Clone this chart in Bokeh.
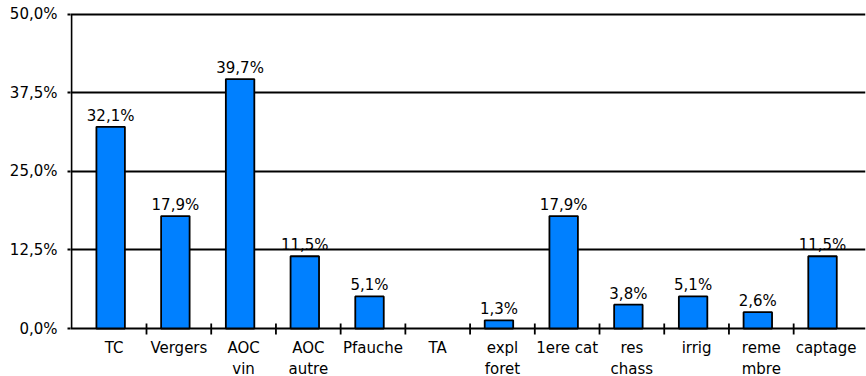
from bokeh.plotting import figure
from bokeh.models import Range1d, FixedTicker, ColumnDataSource
from bokeh.core.properties import value
from bokeh.embed import file_html
from bokeh.resources import INLINE

categories = ["TC", "Vergers", "AOC\nvin", "AOC\nautre", "Pfauche", "TA",
              "expl\nforet", "1ere cat", "res\nchass", "irrig", "reme\nmbre", "captage"]
values = [32.1, 17.9, 39.7, 11.5, 5.1, 0.0, 1.3, 17.9, 3.8, 5.1, 2.6, 11.5]
y_ticks = [0, 12.5, 25, 37.5, 50]
y_tick_labels = ["0,0%", "12,5%", "25,0%", "37,5%", "50,0%"]

FONT = "DejaVu Sans"
FS = "15px"
PX = 316 / 50.3          # pixels per percentage point
UNIT = 64.7              # pixels per category
LW = 1.8

n = len(categories)
centers = [i + 0.5 for i in range(n)]
x_start = -0.159

bx, btop, blab = [], [], []
for c, v in zip(centers, values):
    if v > 0:
        bx.append(c - 0.054)
        btop.append(v)
        blab.append(("%.1f%%" % v).replace(".", ","))
src = ColumnDataSource(dict(x=bx, top=btop, lab=blab))

p = figure(width=866, height=376, output_backend="svg", toolbar_location=None,
           x_range=Range1d(x_start - 1 / UNIT, 12.11), y_range=Range1d(-48 / PX, 50.3),
           min_border_left=70, min_border_right=1, min_border_top=12, min_border_bottom=0)
p.outline_line_color = None
p.background_fill_color = "white"
p.border_fill_color = "white"

# horizontal grid (the 0 line is the category axis)
p.xgrid.grid_line_color = None
p.ygrid.ticker = FixedTicker(ticks=y_ticks)
p.ygrid.grid_line_color = "black"
p.ygrid.grid_line_width = LW

# bars and value labels
p.vbar(x="x", top="top", bottom=0, width=0.44, source=src,
       fill_color="#0080FF", line_color="black", line_width=LW)
p.text(x="x", y="top", text="lab", source=src, text_align="center", text_baseline="bottom",
       y_offset=-2, text_font=value(FONT), text_font_size=FS, text_color="black")

# value axis line (only from 0 to 50)
p.segment(x0=[x_start], y0=[y_ticks[0]], x1=[x_start], y1=[y_ticks[-1]],
          line_color="black", line_width=LW)

ya = p.yaxis[0]
ya.ticker = FixedTicker(ticks=y_ticks)
ya.major_label_overrides = {t: l for t, l in zip(y_ticks, y_tick_labels)}
ya.axis_line_color = None
ya.major_tick_in = 0
ya.major_tick_out = 3
ya.major_tick_line_color = "black"
ya.major_tick_line_width = LW
ya.minor_tick_line_color = None
ya.major_label_standoff = 10
ya.major_label_text_font = FONT
ya.major_label_text_font_size = FS
ya.major_label_text_color = "black"

p.xaxis.visible = False

# category tick marks between categories
bounds = [float(i) for i in range(1, n)]
p.segment(x0=bounds, y0=[-6 / PX] * len(bounds), x1=bounds, y1=[5 / PX] * len(bounds),
          line_color="black", line_width=LW)

# category labels (two rows)
line1 = [c.split("\n")[0] for c in categories]
line2 = [c.split("\n")[1] if "\n" in c else "" for c in categories]
lsrc = ColumnDataSource(dict(x=centers, y1=[-19 / PX] * n, y2=[-40 / PX] * n, t1=line1, t2=line2))
for ycol, tcol in (("y1", "t1"), ("y2", "t2")):
    p.text(x="x", y=ycol, text=tcol, source=lsrc, text_align="center", text_baseline="middle",
           text_font=value(FONT), text_font_size=FS, text_color="black")

open("out.html", "w").write(file_html(p, INLINE))
